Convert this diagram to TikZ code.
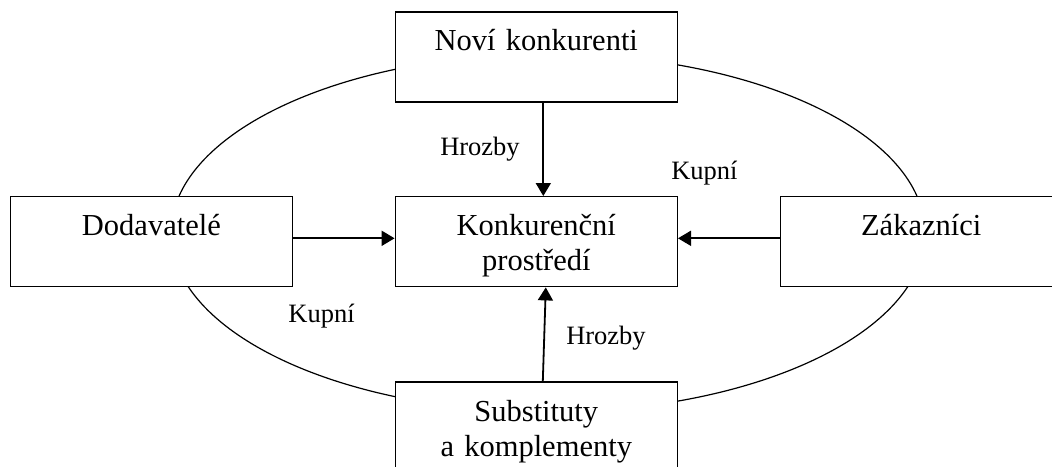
\documentclass[tikz,border=0pt]{standalone}
\usepackage{fontspec}
\setmainfont{Liberation Serif}
\usepackage{tikz}
\usetikzlibrary{arrows.meta,positioning}

\newcommand{\boxfont}{\fontsize{30.5}{35}\selectfont}
\newcommand{\lblfont}{\fontsize{26.5}{30}\selectfont}

\tikzset{
  boxnode/.style={draw,line width=1.4pt,fill=white,text width=282pt,
                  minimum width=282pt,inner sep=0pt,text height=39pt,
                  text depth=51pt,align=center,font=\boxfont},
  lbl/.style={anchor=base,inner sep=0pt,font=\lblfont},
  flow/.style={line width=1.8pt,-{Triangle[length=13pt,width=15pt]}}
}

\begin{document}
\begin{tikzpicture}[x=1pt,y=-1pt]
\useasboundingbox (0,0) rectangle (1052,466);

% outer ring
\draw[line width=1.2pt] (548,233) ellipse [x radius=377,y radius=179];

% boxes
\node[boxnode] (prostredi) at (536.3,241.7) {Konkurenční\\prostředí};
\node[boxnode,above=93.4pt of prostredi] (nove) {Noví konkurenti};
\node[boxnode,left=101.5pt of prostredi] (dodav) {Dodavatelé};
\node[boxnode,right=101.5pt of prostredi] (zakaz) {Zákazníci};
\node[boxnode,below=94pt of prostredi] (subst) {Substituty\\a komplementy};

% forces
\draw[flow] ([xshift=7pt]nove.south) -- ([xshift=7pt]prostredi.north);
\draw[flow] ([yshift=3.4pt]dodav.east) -- ([yshift=3.4pt]prostredi.west);
\draw[flow] ([yshift=3.4pt]zakaz.west) -- ([yshift=3.4pt]prostredi.east);
\draw[flow] ([xshift=6.5pt]subst.north) -- ([xshift=9.5pt]prostredi.south);

% labels
\node[lbl] (hrozbyN) at (480,155) {Hrozby};
\node[lbl] (kupniZ) at (704.4,179) {Kupní};
\node[lbl] (kupniD) at (321.5,322.7) {Kupní};
\node[lbl] (hrozbyS) at (606,344) {Hrozby};
\end{tikzpicture}
\end{document}
